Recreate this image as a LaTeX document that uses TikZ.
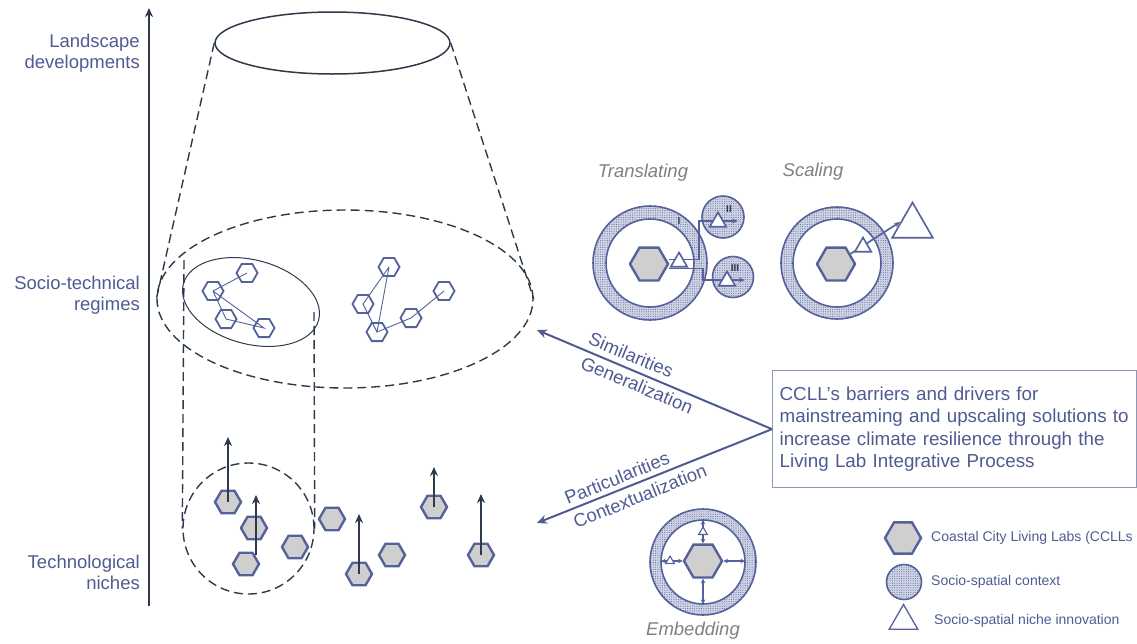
\documentclass[tikz,border=0pt]{standalone}
\usepackage{fontspec}
\setmainfont{Liberation Sans}
\usetikzlibrary{shapes.geometric,arrows.meta,patterns.meta}
\definecolor{tblue}{RGB}{79,91,145}
\definecolor{hexblue}{RGB}{85,97,155}
\definecolor{dark}{RGB}{45,58,74}
\definecolor{hexfill}{RGB}{208,207,208}
\definecolor{greytext}{RGB}{128,128,128}
\definecolor{boxborder}{RGB}{141,151,184}
\definecolor{ringbase}{RGB}{208,212,228}
\definecolor{dotcol}{RGB}{100,112,165}
\newcommand\myring[4]{%
  \path[fill=ringbase, even odd rule] (#1,#2) circle[radius=#3pt] (#1,#2) circle[radius=#4pt];
  \path[pattern={Dots[distance=2.3pt,radius=0.55pt]}, pattern color=dotcol, even odd rule] (#1,#2) circle[radius=#3pt] (#1,#2) circle[radius=#4pt];
  \draw[draw=hexblue, line width=1.6pt] (#1,#2) circle[radius=#3pt] (#1,#2) circle[radius=#4pt];}
\begin{document}
\begin{tikzpicture}[x=1pt,y=-1pt,
  lbl/.style={text=tblue, font=\fontsize{18.5}{21}\selectfont, align=right, anchor=east, inner sep=0pt},
  hexo/.style={regular polygon, regular polygon sides=6, draw=hexblue, line width=1.8pt, inner sep=0pt, minimum size=21pt},
  hexf/.style={hexo, fill=hexfill, line width=2.4pt, minimum size=26pt},
  tri/.style={regular polygon, regular polygon sides=3, draw=hexblue, fill=white, line width=1.6pt, inner sep=0pt, minimum size=20pt},
  dashline/.style={draw=dark, line width=1.4pt, dash pattern=on 9pt off 5pt},
  link/.style={draw=hexblue, line width=0.9pt},
  uparr/.style={draw=dark, line width=2.4pt, -{Stealth[length=9pt,width=8pt]}},
  axis/.style={draw=dark, line width=2.6pt, -{Stealth[length=9pt,width=8pt]}},
  blarr/.style={draw=tblue, line width=2pt, -{Stealth[length=10pt,width=9pt]}},
  tarr/.style={draw=hexblue, line width=1.7pt, -{Stealth[length=6pt,width=5pt]}},
  earr/.style={draw=hexblue, line width=1.4pt, {Stealth[length=4.5pt,width=4.5pt]}-{Stealth[length=4.5pt,width=4.5pt]}},
  arrlbl/.style={text=tblue, font=\fontsize{18.5}{25.4}\selectfont, inner sep=0pt, align=center},
  ital/.style={text=greytext, font=\fontsize{18.5}{21}\selectfont\itshape, inner sep=0pt},
  ssc/.style={circle, inner sep=0pt, draw=hexblue, line width=1.6pt, preaction={fill=ringbase}, pattern={Dots[distance=2.3pt,radius=0.55pt]}, pattern color=dotcol},
  small/.style={text=tblue, font=\fontsize{14}{16}\selectfont, anchor=west, inner sep=0pt},
  num/.style={text=dark, font=\fontsize{10}{12}\selectfont\bfseries, inner sep=0pt},
]
\useasboundingbox (0,0) rectangle (1137,643);

% axis and level labels
\coordinate (ab) at (149,606);
\coordinate (at) at (149,8);
\draw[axis] (ab) -- (at);
\node[lbl] (land) at (140,53) {Landscape\\developments};
\node[lbl] (soc) at (140,295) {Socio-technical\\regimes};
\node[lbl] (tech) at (140,572.5) {Technological\\niches};

% cone
\node[ellipse, draw=dark, line width=1.5pt, minimum width=235pt, minimum height=62pt, inner sep=0pt] (top) at (332.5,43) {};
\node[ellipse, dashline, minimum width=376pt, minimum height=178pt, inner sep=0pt] (reg) at (345,299) {};
\draw[dashline] (top.west) -- (reg.west);
\draw[dashline] (top.east) -- (reg.east);
\node[ellipse, draw=dark, line width=1pt, minimum width=140pt, minimum height=84pt, inner sep=0pt, rotate=-15] (cl) at (251,302) {};
\node[circle, dashline, minimum size=131pt, inner sep=0pt] (nc) at (248.5,528.5) {};
\coordinate (vl) at (184,260);
\coordinate (vr) at (314,312);
\draw[dashline] (vl) -- (nc.west);
\draw[dashline] (vr) -- (nc.east);

% regime clusters
\node[hexo] (h1) at (247,273) {};
\node[hexo] (h2) at (213,291) {};
\node[hexo] (h3) at (226,319) {};
\node[hexo] (h4) at (264,328) {};
\draw[link] (h2.center) -- (h1.center);
\draw[link] (h2.center) -- (h3.center) -- (h4.center) -- (h2.center);
\node[hexo] (r1) at (389,267) {};
\node[hexo] (r2) at (363,304) {};
\node[hexo] (r3) at (377,332) {};
\node[hexo] (r4) at (411,318) {};
\node[hexo] (r5) at (444,291) {};
\draw[link] (r1.center) -- (r2.center) -- (r3.center) -- (r1.center);
\draw[link] (r3.center) -- (r4.center) -- (r5.center);

% niches
\node[hexf] (n1) at (228,502) {};
\node[hexf] (n2) at (254,528) {};
\node[hexf] (n3) at (246,564) {};
\node[hexf] (n4) at (295,547) {};
\node[hexf] (n5) at (332,519) {};
\node[hexf] (n6) at (359,574) {};
\node[hexf] (n7) at (392,555) {};
\node[hexf] (n8) at (434,507) {};
\node[hexf] (n9) at (481,555) {};
\coordinate (a1) at (228,437);
\coordinate (s2) at (256,555);
\coordinate (a2) at (256,495);
\coordinate (a6) at (359,514);
\coordinate (a8) at (434,467);
\coordinate (a9) at (481,494);
\draw[uparr] (n1.center) -- (a1);
\draw[uparr] (s2) -- (a2);
\draw[uparr] (n6.center) -- (a6);
\draw[uparr] (n8.center) -- (a8);
\draw[uparr] (n9.center) -- (a9);

% text box and arrows
\node[draw=boxborder, line width=1.3pt, text=tblue, font=\fontsize{18.8}{22.5}\selectfont, text width=350pt, inner xsep=7pt, inner ysep=0pt, minimum height=117pt, align=left, anchor=north west] (box) at (772,370)
  {CCLL’s barriers and drivers for\\mainstreaming and upscaling solutions to\\increase climate resilience through the\\Living Lab Integrative Process};
\coordinate (simtip) at (537,330);
\coordinate (partip) at (537,523);
\draw[blarr] (box.west) -- (simtip);
\draw[blarr] (box.west) -- (partip);
\node[arrlbl, rotate=-22.6] (sim) at (626.2,366.7) {Similarities\\\hspace*{34pt}Generalization};
\node[arrlbl, rotate=22] (par) at (621.7,489.7) {Particularities\\\hspace*{29pt}Contextualization};

% Translating
\node[ital] (trl) at (643,173) {Translating};
\myring{650}{263}{57}{44}
\node[ssc, minimum size=42pt] (c2) at (723,217) {};
\node[ssc, minimum size=41pt] (c3) at (733,277) {};
\node[hexf, minimum size=38pt] (th) at (649,264) {};
\coordinate (k2) at (699,221);
\coordinate (e2) at (738,221);
\coordinate (k3) at (703,280);
\coordinate (e3) at (745,280);
\draw[tarr] ([yshift=4.5pt]th.east) -| (k2) -- (e2);
\draw[tarr] ([yshift=-4.5pt]th.east) -| (k3) -- (e3);
\node[tri, minimum size=19pt] (tt) at (679,262) {};
\node[tri, minimum size=19pt] (t2) at (718,222) {};
\node[tri, minimum size=19pt] (t3) at (727,281) {};
\node[num] (l1) at (679,221) {I};
\node[num] (l2) at (729,209) {II};
\node[num] (l3) at (735,268) {III};

% Scaling
\node[ital] (scl) at (813,172) {Scaling};
\myring{837}{263}{56}{44}
\node[hexf, minimum size=38pt] (sh) at (836,264) {};
\coordinate (stip) at (900,222);
\draw[tarr] (sh.35) -- (stip);
\node[tri, minimum size=19pt] (st) at (863,247) {};
\node[tri, minimum size=47pt] (bt) at (912.5,226) {};

% Embedding
\myring{703}{562}{53}{42}
\node[hexf, minimum size=38pt] (eh) at (703,561) {};
\coordinate (eu) at (703,520);
\coordinate (el) at (661,561);
\coordinate (er) at (745,561);
\coordinate (ed) at (703,604);
\draw[earr] (eh.north) -- (eu);
\draw[earr] (eh.west) -- (el);
\draw[earr] (eh.east) -- (er);
\draw[earr] (eh.south) -- (ed);
\node[tri, minimum size=10pt, line width=1.1pt] (et1) at (703,532) {};
\node[tri, minimum size=10pt, line width=1.1pt] (et2) at (670,561) {};
\node[ital] (emb) at (693,631) {Embedding};

% Legend
\node[hexf, minimum size=36pt] (lh) at (903,538) {};
\node[ssc, minimum size=35pt] (lc) at (904,582) {};
\node[tri, minimum size=33pt, line width=1.3pt] (lt) at (903.5,621) {};
\node[small] (lt1) at (931,538) {Coastal City Living Labs (CCLLs};
\node[small] (lt2) at (931,582) {Socio-spatial context};
\node[small] (lt3) at (934,621) {Socio-spatial niche innovation};
\end{tikzpicture}
\end{document}
